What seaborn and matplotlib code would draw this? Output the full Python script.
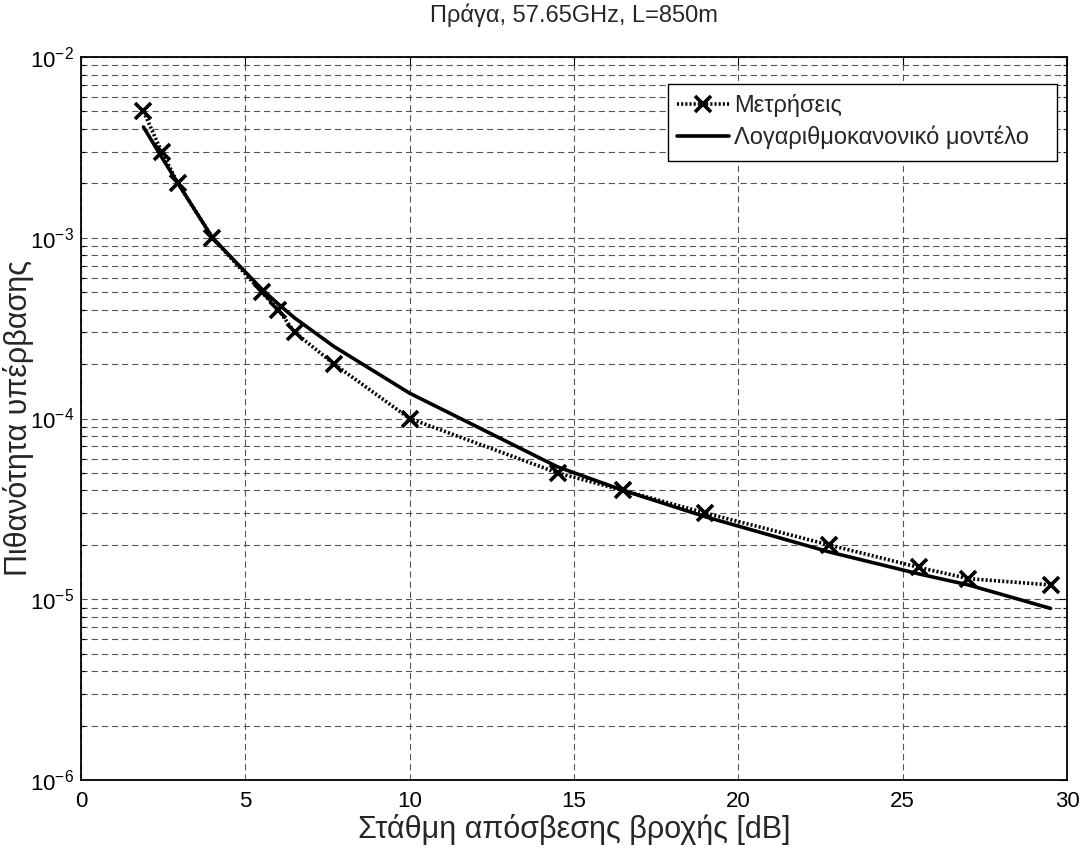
import numpy as np
import pandas as pd
import seaborn as sns
import matplotlib
matplotlib.use("Agg")
import matplotlib.pyplot as plt
from matplotlib.patches import Rectangle
from matplotlib.ticker import LogLocator, MultipleLocator, NullFormatter

# ---- data ----
meas_x = [1.9, 2.45, 2.95, 4.0, 5.5, 6.0, 6.5, 7.7, 10.0, 14.5, 16.5, 19.0, 22.75, 25.5, 27.0, 29.5]
meas_y = [5e-3, 3e-3, 2e-3, 1e-3, 5e-4, 4e-4, 3e-4, 2e-4, 1e-4, 5e-5, 4e-5, 3e-5, 2e-5, 1.5e-5, 1.3e-5, 1.2e-5]
model_x = [1.9, 2.45, 2.95, 4.0, 5.5, 6.0, 6.5, 7.7, 10.0, 14.5, 16.5, 19.0, 22.75, 25.5, 27.0, 29.5]
model_y = [4.1e-3, 2.8e-3, 2.0e-3, 1.0e-3, 5.2e-4, 4.3e-4, 3.6e-4, 2.5e-4, 1.38e-4, 5.4e-5, 4.0e-5, 2.86e-5, 1.83e-5, 1.38e-5, 1.2e-5, 8.9e-6]

title = "Πράγα, 57.65GHz, L=850m"
xlabel = "Στάθμη απόσβεσης βροχής [dB]"
ylabel = "Πιθανότητα υπέρβασης"
labels = ["Μετρήσεις", "Λογαριθμοκανονικό μοντέλο"]

sns.set_theme(style="white")
plt.rcParams['font.family'] = ['Liberation Sans', 'DejaVu Sans']
plt.rcParams['mathtext.fontset'] = 'custom'
plt.rcParams['mathtext.rm'] = 'Liberation Sans'
plt.rcParams['mathtext.it'] = 'Liberation Sans'
plt.rcParams['lines.scale_dashes'] = False

W, H = 1085, 849
fig = plt.figure(figsize=(W / 100, H / 100), dpi=100)
ax = fig.add_axes([81/W, 1-780/H, (1067-81)/W, (780-57)/H])

def ax_x(px):
    return (px - 81) / (1067 - 81)

def ax_y(py):
    return (780 - py) / (780 - 57)

df_m = pd.DataFrame({"x": meas_x, "y": meas_y})
df_o = pd.DataFrame({"x": model_x, "y": model_y})

sns.lineplot(data=df_m, x="x", y="y", ax=ax, color="black", linestyle=(0, (1.5, 1.5)),
             linewidth=2.6, marker="x", markersize=12, markeredgewidth=2.6,
             markeredgecolor="black", label=labels[0], sort=False, zorder=3)
sns.lineplot(data=df_o, x="x", y="y", ax=ax, color="black", linestyle="-",
             linewidth=2.6, label=labels[1], sort=False, zorder=3)

ax.set_yscale("log")
ax.set_xlim(0, 30)
ax.set_ylim(1e-6, 1e-2)
ax.xaxis.set_major_locator(MultipleLocator(5))
ax.yaxis.set_major_locator(LogLocator(base=10, numticks=10))
ax.yaxis.set_minor_locator(LogLocator(base=10, subs=np.arange(2, 10), numticks=20))
ax.yaxis.set_minor_formatter(NullFormatter())

grid_kw = dict(color="#555555", linestyle=(0, (4.5, 2.8)), linewidth=0.8)
ax.grid(True, which="major", axis="both", **grid_kw)
ax.grid(True, which="minor", axis="y", **grid_kw)
ax.set_axisbelow(True)

ax.tick_params(axis="both", which="both", direction="in", colors="black",
               labelsize=16, top=True, right=True)
ax.tick_params(axis="both", which="major", length=6, width=0.8)
ax.tick_params(axis="y", which="minor", length=3, width=0.8, left=True, right=True)
ax.tick_params(axis="x", pad=8)
ax.tick_params(axis="y", pad=5)

for s in ax.spines.values():
    s.set_color("black")
    s.set_linewidth(1.3)
    s.set_visible(True)

ax.set_title(title, fontsize=17, pad=25)
ax.set_xlabel(xlabel, fontsize=22)
ax.set_ylabel(ylabel, fontsize=22)
ax.xaxis.set_label_coords(0.5, ax_y(814))
ax.yaxis.set_label_coords(ax_x(34), 0.5)

# legend frame (MATLAB-like, extra right padding)
frame = Rectangle((ax_x(668), ax_y(161)), ax_x(1057) - ax_x(668), ax_y(84) - ax_y(161),
                  transform=ax.transAxes, facecolor="white", edgecolor="black",
                  linewidth=1.0, zorder=4)
ax.add_patch(frame)

leg = ax.legend(loc="lower right", bbox_to_anchor=(ax_x(1029), ax_y(149)), borderaxespad=0,
                fontsize=17, frameon=False, handlelength=2.2, borderpad=0.0,
                labelspacing=0.35, handletextpad=0.2)
leg.set_zorder(5)

fig.savefig("out.png", dpi=100, facecolor="white")
